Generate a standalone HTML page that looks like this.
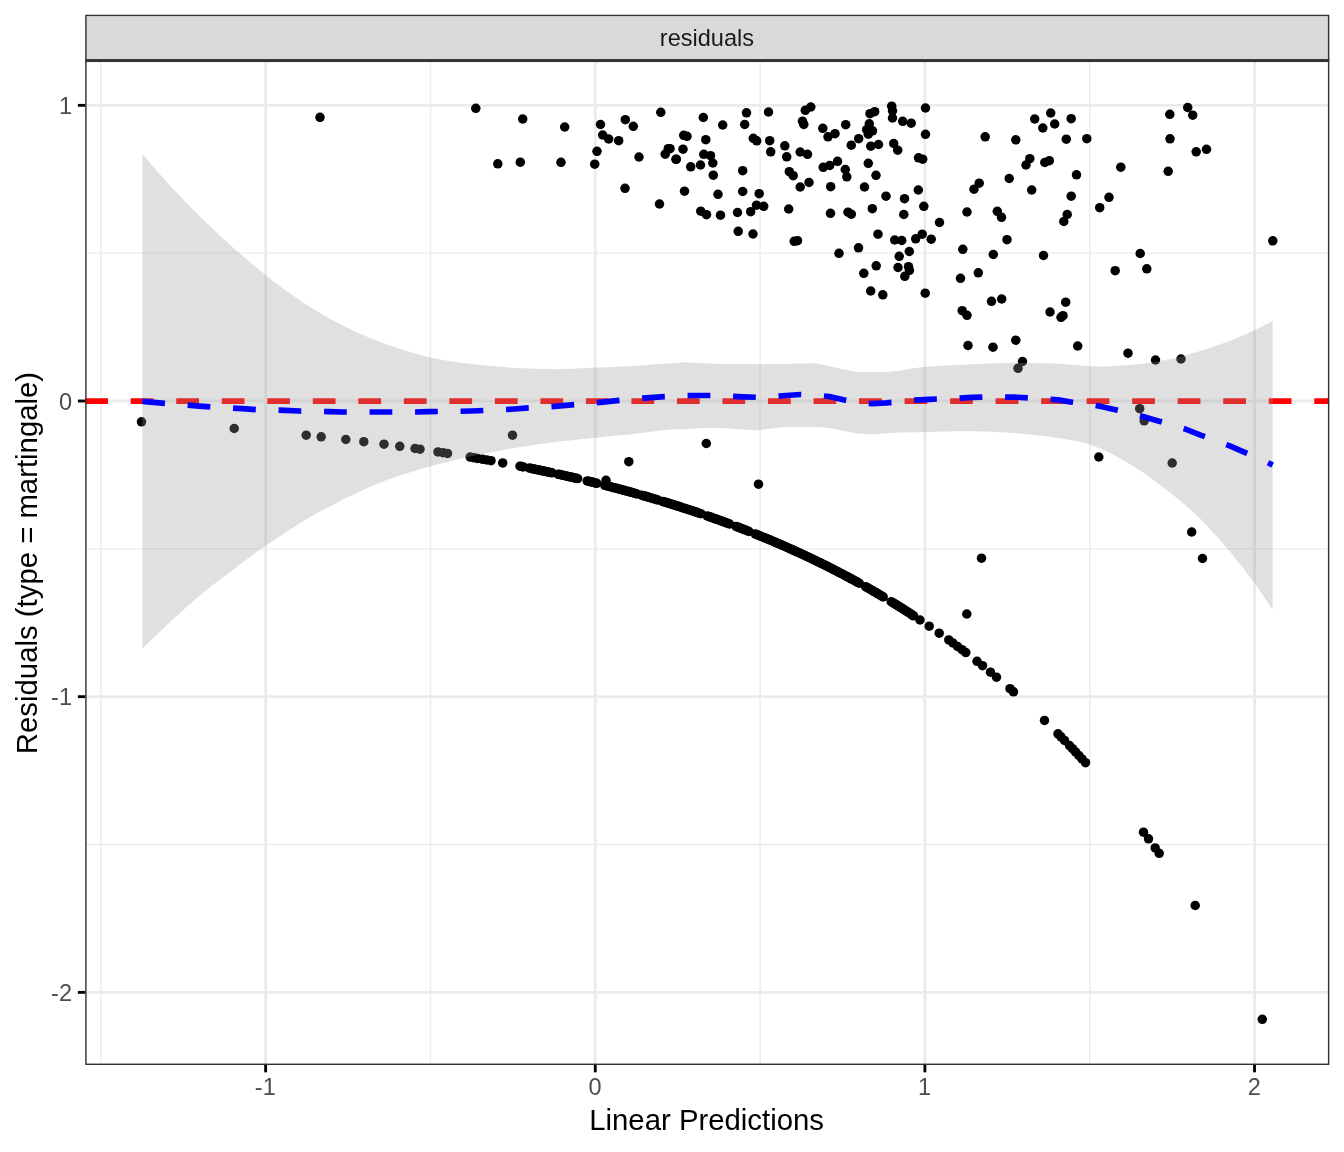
<!DOCTYPE html>
<html lang="en"><head><meta charset="utf-8"><title>Martingale residuals</title>
<style>html,body{margin:0;padding:0;background:#fff}svg{display:block}text{font-family:"Liberation Sans",sans-serif}</style></head><body>
<svg width="1344" height="1152" viewBox="0 0 1344 1152">
<rect width="1344" height="1152" fill="#fff"/>
<defs><clipPath id="pc"><rect x="85.2" y="60.6" width="1244.13" height="1004.4"/></clipPath><clipPath id="sc"><rect x="85.2" y="14.67" width="1244.13" height="45.93"/></clipPath></defs>
<g clip-path="url(#pc)">
<rect x="85.2" y="60.6" width="1244.13" height="1004.4" fill="#fff"/>
<g stroke="#EBEBEB" stroke-width="1.42" fill="none">
<line x1="100.82" x2="100.82" y1="60.6" y2="1065.0"/>
<line x1="430.45" x2="430.45" y1="60.6" y2="1065.0"/>
<line x1="760.09" x2="760.09" y1="60.6" y2="1065.0"/>
<line x1="1089.71" x2="1089.71" y1="60.6" y2="1065.0"/>
<line y1="253.16" y2="253.16" x1="85.2" x2="1329.33"/>
<line y1="548.84" y2="548.84" x1="85.2" x2="1329.33"/>
<line y1="844.50" y2="844.50" x1="85.2" x2="1329.33"/>
</g>
<g stroke="#EBEBEB" stroke-width="2.85" fill="none">
<line x1="265.64" x2="265.64" y1="60.6" y2="1065.0"/>
<line x1="595.27" x2="595.27" y1="60.6" y2="1065.0"/>
<line x1="924.90" x2="924.90" y1="60.6" y2="1065.0"/>
<line x1="1254.53" x2="1254.53" y1="60.6" y2="1065.0"/>
<line y1="105.33" y2="105.33" x1="85.2" x2="1329.33"/>
<line y1="401.00" y2="401.00" x1="85.2" x2="1329.33"/>
<line y1="696.67" y2="696.67" x1="85.2" x2="1329.33"/>
<line y1="992.34" y2="992.34" x1="85.2" x2="1329.33"/>
</g>
<g fill="#000">
<circle cx="475.8" cy="108.3" r="4.75"/>
<circle cx="522.7" cy="119.0" r="4.75"/>
<circle cx="564.7" cy="127.0" r="4.75"/>
<circle cx="600.5" cy="124.5" r="4.75"/>
<circle cx="625.3" cy="119.7" r="4.75"/>
<circle cx="633.3" cy="126.3" r="4.75"/>
<circle cx="660.8" cy="112.3" r="4.75"/>
<circle cx="602.7" cy="135.0" r="4.75"/>
<circle cx="608.7" cy="139.0" r="4.75"/>
<circle cx="618.7" cy="140.7" r="4.75"/>
<circle cx="597.0" cy="151.3" r="4.75"/>
<circle cx="639.0" cy="157.0" r="4.75"/>
<circle cx="668.2" cy="148.7" r="4.75"/>
<circle cx="665.2" cy="154.2" r="4.75"/>
<circle cx="676.0" cy="159.3" r="4.75"/>
<circle cx="497.8" cy="163.8" r="4.75"/>
<circle cx="520.3" cy="162.2" r="4.75"/>
<circle cx="561.0" cy="162.3" r="4.75"/>
<circle cx="594.7" cy="164.2" r="4.75"/>
<circle cx="625.0" cy="188.3" r="4.75"/>
<circle cx="659.5" cy="204.0" r="4.75"/>
<circle cx="703.3" cy="117.5" r="4.75"/>
<circle cx="722.7" cy="125.0" r="4.75"/>
<circle cx="746.5" cy="112.8" r="4.75"/>
<circle cx="744.7" cy="124.5" r="4.75"/>
<circle cx="768.5" cy="112.0" r="4.75"/>
<circle cx="810.8" cy="107.0" r="4.75"/>
<circle cx="805.3" cy="110.3" r="4.75"/>
<circle cx="802.5" cy="121.2" r="4.75"/>
<circle cx="803.8" cy="124.5" r="4.75"/>
<circle cx="822.8" cy="128.3" r="4.75"/>
<circle cx="835.0" cy="133.7" r="4.75"/>
<circle cx="828.0" cy="136.8" r="4.75"/>
<circle cx="845.7" cy="124.7" r="4.75"/>
<circle cx="874.7" cy="111.7" r="4.75"/>
<circle cx="870.0" cy="113.7" r="4.75"/>
<circle cx="869.3" cy="123.8" r="4.75"/>
<circle cx="866.7" cy="129.7" r="4.75"/>
<circle cx="872.5" cy="130.8" r="4.75"/>
<circle cx="868.3" cy="134.2" r="4.75"/>
<circle cx="858.7" cy="138.7" r="4.75"/>
<circle cx="851.3" cy="145.2" r="4.75"/>
<circle cx="870.8" cy="146.2" r="4.75"/>
<circle cx="878.5" cy="144.5" r="4.75"/>
<circle cx="683.7" cy="135.3" r="4.75"/>
<circle cx="687.0" cy="136.3" r="4.75"/>
<circle cx="705.8" cy="139.7" r="4.75"/>
<circle cx="683.0" cy="149.2" r="4.75"/>
<circle cx="670.0" cy="148.7" r="4.75"/>
<circle cx="676.3" cy="159.2" r="4.75"/>
<circle cx="703.8" cy="154.3" r="4.75"/>
<circle cx="710.5" cy="155.7" r="4.75"/>
<circle cx="712.8" cy="163.0" r="4.75"/>
<circle cx="700.5" cy="165.0" r="4.75"/>
<circle cx="690.7" cy="166.8" r="4.75"/>
<circle cx="713.3" cy="175.2" r="4.75"/>
<circle cx="684.5" cy="191.2" r="4.75"/>
<circle cx="718.0" cy="194.3" r="4.75"/>
<circle cx="742.7" cy="170.7" r="4.75"/>
<circle cx="742.7" cy="191.5" r="4.75"/>
<circle cx="759.2" cy="193.7" r="4.75"/>
<circle cx="753.3" cy="138.3" r="4.75"/>
<circle cx="756.7" cy="140.8" r="4.75"/>
<circle cx="769.7" cy="140.7" r="4.75"/>
<circle cx="770.7" cy="151.8" r="4.75"/>
<circle cx="784.8" cy="145.8" r="4.75"/>
<circle cx="786.7" cy="156.8" r="4.75"/>
<circle cx="800.2" cy="152.0" r="4.75"/>
<circle cx="807.5" cy="154.3" r="4.75"/>
<circle cx="789.3" cy="171.7" r="4.75"/>
<circle cx="793.2" cy="175.7" r="4.75"/>
<circle cx="809.0" cy="182.5" r="4.75"/>
<circle cx="800.2" cy="187.0" r="4.75"/>
<circle cx="823.2" cy="167.3" r="4.75"/>
<circle cx="829.7" cy="165.5" r="4.75"/>
<circle cx="837.5" cy="161.3" r="4.75"/>
<circle cx="845.3" cy="169.5" r="4.75"/>
<circle cx="846.8" cy="176.8" r="4.75"/>
<circle cx="868.3" cy="163.3" r="4.75"/>
<circle cx="876.0" cy="175.3" r="4.75"/>
<circle cx="864.5" cy="187.0" r="4.75"/>
<circle cx="830.7" cy="186.7" r="4.75"/>
<circle cx="872.3" cy="208.7" r="4.75"/>
<circle cx="830.5" cy="213.3" r="4.75"/>
<circle cx="848.0" cy="212.2" r="4.75"/>
<circle cx="851.3" cy="214.2" r="4.75"/>
<circle cx="788.7" cy="209.0" r="4.75"/>
<circle cx="756.5" cy="205.2" r="4.75"/>
<circle cx="763.7" cy="206.3" r="4.75"/>
<circle cx="750.7" cy="211.7" r="4.75"/>
<circle cx="737.5" cy="212.5" r="4.75"/>
<circle cx="720.5" cy="215.2" r="4.75"/>
<circle cx="700.8" cy="211.2" r="4.75"/>
<circle cx="706.5" cy="214.7" r="4.75"/>
<circle cx="738.2" cy="231.3" r="4.75"/>
<circle cx="753.0" cy="234.0" r="4.75"/>
<circle cx="794.2" cy="241.3" r="4.75"/>
<circle cx="797.5" cy="240.7" r="4.75"/>
<circle cx="878.0" cy="234.2" r="4.75"/>
<circle cx="858.5" cy="247.8" r="4.75"/>
<circle cx="839.0" cy="253.3" r="4.75"/>
<circle cx="876.2" cy="265.8" r="4.75"/>
<circle cx="863.8" cy="273.3" r="4.75"/>
<circle cx="891.7" cy="106.2" r="4.75"/>
<circle cx="892.5" cy="110.8" r="4.75"/>
<circle cx="892.5" cy="118.0" r="4.75"/>
<circle cx="925.5" cy="108.0" r="4.75"/>
<circle cx="902.7" cy="121.3" r="4.75"/>
<circle cx="911.2" cy="123.2" r="4.75"/>
<circle cx="925.5" cy="134.3" r="4.75"/>
<circle cx="893.7" cy="143.5" r="4.75"/>
<circle cx="897.7" cy="150.2" r="4.75"/>
<circle cx="918.5" cy="157.8" r="4.75"/>
<circle cx="922.7" cy="159.2" r="4.75"/>
<circle cx="985.2" cy="136.8" r="4.75"/>
<circle cx="1015.8" cy="139.8" r="4.75"/>
<circle cx="1034.7" cy="119.0" r="4.75"/>
<circle cx="1050.7" cy="113.0" r="4.75"/>
<circle cx="1054.7" cy="124.0" r="4.75"/>
<circle cx="1042.8" cy="128.0" r="4.75"/>
<circle cx="1071.2" cy="118.7" r="4.75"/>
<circle cx="1066.3" cy="139.2" r="4.75"/>
<circle cx="1086.8" cy="138.7" r="4.75"/>
<circle cx="1029.8" cy="158.7" r="4.75"/>
<circle cx="1026.0" cy="165.0" r="4.75"/>
<circle cx="1044.8" cy="162.5" r="4.75"/>
<circle cx="1049.3" cy="160.7" r="4.75"/>
<circle cx="1076.5" cy="174.8" r="4.75"/>
<circle cx="1009.2" cy="178.5" r="4.75"/>
<circle cx="979.2" cy="183.2" r="4.75"/>
<circle cx="974.0" cy="189.2" r="4.75"/>
<circle cx="1031.7" cy="190.0" r="4.75"/>
<circle cx="1071.2" cy="196.2" r="4.75"/>
<circle cx="1067.2" cy="214.5" r="4.75"/>
<circle cx="1063.8" cy="221.5" r="4.75"/>
<circle cx="886.0" cy="196.2" r="4.75"/>
<circle cx="904.5" cy="198.7" r="4.75"/>
<circle cx="918.3" cy="190.0" r="4.75"/>
<circle cx="923.8" cy="206.3" r="4.75"/>
<circle cx="903.8" cy="214.5" r="4.75"/>
<circle cx="939.5" cy="222.5" r="4.75"/>
<circle cx="967.0" cy="212.0" r="4.75"/>
<circle cx="997.3" cy="211.3" r="4.75"/>
<circle cx="1001.5" cy="217.3" r="4.75"/>
<circle cx="1007.0" cy="239.7" r="4.75"/>
<circle cx="894.7" cy="240.0" r="4.75"/>
<circle cx="901.7" cy="240.5" r="4.75"/>
<circle cx="915.7" cy="238.8" r="4.75"/>
<circle cx="922.2" cy="234.2" r="4.75"/>
<circle cx="931.2" cy="239.2" r="4.75"/>
<circle cx="909.3" cy="251.5" r="4.75"/>
<circle cx="899.2" cy="256.3" r="4.75"/>
<circle cx="962.8" cy="249.3" r="4.75"/>
<circle cx="993.3" cy="254.5" r="4.75"/>
<circle cx="1043.5" cy="255.5" r="4.75"/>
<circle cx="898.0" cy="267.5" r="4.75"/>
<circle cx="908.5" cy="266.7" r="4.75"/>
<circle cx="909.5" cy="270.5" r="4.75"/>
<circle cx="904.8" cy="276.3" r="4.75"/>
<circle cx="978.3" cy="272.8" r="4.75"/>
<circle cx="960.5" cy="278.3" r="4.75"/>
<circle cx="1187.7" cy="107.5" r="4.75"/>
<circle cx="1169.8" cy="114.3" r="4.75"/>
<circle cx="1192.7" cy="115.2" r="4.75"/>
<circle cx="1170.0" cy="138.8" r="4.75"/>
<circle cx="1196.2" cy="151.8" r="4.75"/>
<circle cx="1206.5" cy="149.3" r="4.75"/>
<circle cx="1120.8" cy="167.2" r="4.75"/>
<circle cx="1168.2" cy="171.3" r="4.75"/>
<circle cx="1109.0" cy="197.3" r="4.75"/>
<circle cx="1099.7" cy="207.7" r="4.75"/>
<circle cx="1272.8" cy="240.8" r="4.75"/>
<circle cx="1140.2" cy="253.5" r="4.75"/>
<circle cx="1146.8" cy="268.8" r="4.75"/>
<circle cx="1115.2" cy="270.7" r="4.75"/>
<circle cx="870.7" cy="291.0" r="4.75"/>
<circle cx="882.8" cy="294.8" r="4.75"/>
<circle cx="925.2" cy="293.2" r="4.75"/>
<circle cx="991.5" cy="301.3" r="4.75"/>
<circle cx="1001.7" cy="299.0" r="4.75"/>
<circle cx="962.2" cy="310.7" r="4.75"/>
<circle cx="967.0" cy="315.3" r="4.75"/>
<circle cx="1050.0" cy="312.0" r="4.75"/>
<circle cx="1065.7" cy="302.2" r="4.75"/>
<circle cx="1063.0" cy="315.7" r="4.75"/>
<circle cx="1061.0" cy="317.3" r="4.75"/>
<circle cx="968.0" cy="345.5" r="4.75"/>
<circle cx="993.0" cy="347.2" r="4.75"/>
<circle cx="1015.8" cy="340.2" r="4.75"/>
<circle cx="1077.7" cy="346.0" r="4.75"/>
<circle cx="1022.5" cy="361.5" r="4.75"/>
<circle cx="1018.0" cy="368.3" r="4.75"/>
<circle cx="1098.8" cy="457.0" r="4.75"/>
<circle cx="1128.0" cy="353.2" r="4.75"/>
<circle cx="1155.5" cy="360.0" r="4.75"/>
<circle cx="1181.0" cy="359.0" r="4.75"/>
<circle cx="1139.7" cy="408.7" r="4.75"/>
<circle cx="1144.2" cy="420.8" r="4.75"/>
<circle cx="1172.2" cy="463.0" r="4.75"/>
<circle cx="1191.7" cy="532.0" r="4.75"/>
<circle cx="1202.5" cy="558.5" r="4.75"/>
<circle cx="320.0" cy="117.3" r="4.75"/>
<circle cx="512.5" cy="435.2" r="4.75"/>
<circle cx="628.8" cy="461.7" r="4.75"/>
<circle cx="706.3" cy="443.5" r="4.75"/>
<circle cx="758.5" cy="484.2" r="4.75"/>
<circle cx="981.5" cy="558.2" r="4.75"/>
<circle cx="966.8" cy="614.0" r="4.75"/>
<circle cx="606.0" cy="480.3" r="4.75"/>
<circle cx="141.5" cy="421.8" r="4.75"/>
<circle cx="234.2" cy="428.5" r="4.75"/>
<circle cx="306.2" cy="435.2" r="4.75"/>
<circle cx="321.2" cy="436.8" r="4.75"/>
<circle cx="345.8" cy="439.5" r="4.75"/>
<circle cx="363.8" cy="441.7" r="4.75"/>
<circle cx="384.0" cy="444.2" r="4.75"/>
<circle cx="399.8" cy="446.3" r="4.75"/>
<circle cx="415.0" cy="448.5" r="4.75"/>
<circle cx="420.0" cy="449.2" r="4.75"/>
<circle cx="438.0" cy="451.9" r="4.75"/>
<circle cx="443.0" cy="452.7" r="4.75"/>
<circle cx="447.5" cy="453.4" r="4.75"/>
<circle cx="470.2" cy="457.1" r="4.75"/>
<circle cx="474.3" cy="457.8" r="4.75"/>
<circle cx="477.7" cy="458.4" r="4.75"/>
<circle cx="482.7" cy="459.3" r="4.75"/>
<circle cx="486.8" cy="460.0" r="4.75"/>
<circle cx="491.0" cy="460.7" r="4.75"/>
<circle cx="502.7" cy="462.9" r="4.75"/>
<circle cx="520.0" cy="466.2" r="4.75"/>
<circle cx="521.6" cy="466.5" r="4.75"/>
<circle cx="523.2" cy="466.9" r="4.75"/>
<circle cx="529.6" cy="468.1" r="4.75"/>
<circle cx="531.2" cy="468.5" r="4.75"/>
<circle cx="532.8" cy="468.8" r="4.75"/>
<circle cx="534.4" cy="469.1" r="4.75"/>
<circle cx="536.0" cy="469.5" r="4.75"/>
<circle cx="537.6" cy="469.8" r="4.75"/>
<circle cx="539.2" cy="470.1" r="4.75"/>
<circle cx="540.8" cy="470.5" r="4.75"/>
<circle cx="542.4" cy="470.8" r="4.75"/>
<circle cx="544.0" cy="471.1" r="4.75"/>
<circle cx="545.6" cy="471.5" r="4.75"/>
<circle cx="547.2" cy="471.8" r="4.75"/>
<circle cx="548.8" cy="472.2" r="4.75"/>
<circle cx="550.4" cy="472.5" r="4.75"/>
<circle cx="552.0" cy="472.8" r="4.75"/>
<circle cx="558.4" cy="474.3" r="4.75"/>
<circle cx="560.0" cy="474.6" r="4.75"/>
<circle cx="561.6" cy="475.0" r="4.75"/>
<circle cx="563.2" cy="475.3" r="4.75"/>
<circle cx="564.8" cy="475.7" r="4.75"/>
<circle cx="566.4" cy="476.0" r="4.75"/>
<circle cx="568.0" cy="476.4" r="4.75"/>
<circle cx="569.6" cy="476.8" r="4.75"/>
<circle cx="571.2" cy="477.1" r="4.75"/>
<circle cx="572.8" cy="477.5" r="4.75"/>
<circle cx="574.4" cy="477.9" r="4.75"/>
<circle cx="576.0" cy="478.3" r="4.75"/>
<circle cx="577.6" cy="478.6" r="4.75"/>
<circle cx="587.2" cy="480.9" r="4.75"/>
<circle cx="588.8" cy="481.3" r="4.75"/>
<circle cx="590.4" cy="481.7" r="4.75"/>
<circle cx="592.0" cy="482.1" r="4.75"/>
<circle cx="593.6" cy="482.5" r="4.75"/>
<circle cx="595.2" cy="482.9" r="4.75"/>
<circle cx="596.8" cy="483.3" r="4.75"/>
<circle cx="604.8" cy="485.3" r="4.75"/>
<circle cx="606.4" cy="485.7" r="4.75"/>
<circle cx="608.0" cy="486.1" r="4.75"/>
<circle cx="609.6" cy="486.5" r="4.75"/>
<circle cx="611.2" cy="486.9" r="4.75"/>
<circle cx="612.8" cy="487.4" r="4.75"/>
<circle cx="614.4" cy="487.8" r="4.75"/>
<circle cx="616.0" cy="488.2" r="4.75"/>
<circle cx="617.6" cy="488.6" r="4.75"/>
<circle cx="619.2" cy="489.1" r="4.75"/>
<circle cx="620.8" cy="489.5" r="4.75"/>
<circle cx="622.4" cy="489.9" r="4.75"/>
<circle cx="624.0" cy="490.3" r="4.75"/>
<circle cx="625.6" cy="490.8" r="4.75"/>
<circle cx="627.2" cy="491.2" r="4.75"/>
<circle cx="628.8" cy="491.6" r="4.75"/>
<circle cx="630.4" cy="492.1" r="4.75"/>
<circle cx="632.0" cy="492.5" r="4.75"/>
<circle cx="633.6" cy="493.0" r="4.75"/>
<circle cx="635.2" cy="493.4" r="4.75"/>
<circle cx="636.8" cy="493.9" r="4.75"/>
<circle cx="641.6" cy="495.2" r="4.75"/>
<circle cx="643.2" cy="495.7" r="4.75"/>
<circle cx="644.8" cy="496.1" r="4.75"/>
<circle cx="646.4" cy="496.6" r="4.75"/>
<circle cx="648.0" cy="497.1" r="4.75"/>
<circle cx="649.6" cy="497.5" r="4.75"/>
<circle cx="651.2" cy="498.0" r="4.75"/>
<circle cx="652.8" cy="498.5" r="4.75"/>
<circle cx="654.4" cy="499.0" r="4.75"/>
<circle cx="656.0" cy="499.4" r="4.75"/>
<circle cx="657.6" cy="499.9" r="4.75"/>
<circle cx="662.4" cy="501.4" r="4.75"/>
<circle cx="664.0" cy="501.8" r="4.75"/>
<circle cx="665.6" cy="502.3" r="4.75"/>
<circle cx="667.2" cy="502.8" r="4.75"/>
<circle cx="668.8" cy="503.3" r="4.75"/>
<circle cx="670.4" cy="503.8" r="4.75"/>
<circle cx="672.0" cy="504.3" r="4.75"/>
<circle cx="673.6" cy="504.8" r="4.75"/>
<circle cx="675.2" cy="505.3" r="4.75"/>
<circle cx="676.8" cy="505.8" r="4.75"/>
<circle cx="678.4" cy="506.3" r="4.75"/>
<circle cx="680.0" cy="506.8" r="4.75"/>
<circle cx="681.6" cy="507.4" r="4.75"/>
<circle cx="683.2" cy="507.9" r="4.75"/>
<circle cx="684.8" cy="508.4" r="4.75"/>
<circle cx="686.4" cy="508.9" r="4.75"/>
<circle cx="688.0" cy="509.4" r="4.75"/>
<circle cx="689.6" cy="510.0" r="4.75"/>
<circle cx="691.2" cy="510.5" r="4.75"/>
<circle cx="692.8" cy="511.0" r="4.75"/>
<circle cx="694.4" cy="511.6" r="4.75"/>
<circle cx="696.0" cy="512.1" r="4.75"/>
<circle cx="697.6" cy="512.6" r="4.75"/>
<circle cx="699.2" cy="513.2" r="4.75"/>
<circle cx="700.8" cy="513.7" r="4.75"/>
<circle cx="707.2" cy="515.9" r="4.75"/>
<circle cx="708.8" cy="516.5" r="4.75"/>
<circle cx="710.4" cy="517.1" r="4.75"/>
<circle cx="712.0" cy="517.6" r="4.75"/>
<circle cx="713.6" cy="518.2" r="4.75"/>
<circle cx="715.2" cy="518.8" r="4.75"/>
<circle cx="716.8" cy="519.3" r="4.75"/>
<circle cx="718.4" cy="519.9" r="4.75"/>
<circle cx="720.0" cy="520.5" r="4.75"/>
<circle cx="721.6" cy="521.1" r="4.75"/>
<circle cx="723.2" cy="521.6" r="4.75"/>
<circle cx="724.8" cy="522.2" r="4.75"/>
<circle cx="726.4" cy="522.8" r="4.75"/>
<circle cx="728.0" cy="523.4" r="4.75"/>
<circle cx="729.6" cy="524.0" r="4.75"/>
<circle cx="736.0" cy="526.4" r="4.75"/>
<circle cx="737.6" cy="527.0" r="4.75"/>
<circle cx="739.2" cy="527.6" r="4.75"/>
<circle cx="740.8" cy="528.2" r="4.75"/>
<circle cx="742.4" cy="528.9" r="4.75"/>
<circle cx="744.0" cy="529.5" r="4.75"/>
<circle cx="745.6" cy="530.1" r="4.75"/>
<circle cx="747.2" cy="530.7" r="4.75"/>
<circle cx="748.8" cy="531.4" r="4.75"/>
<circle cx="755.2" cy="533.9" r="4.75"/>
<circle cx="756.8" cy="534.6" r="4.75"/>
<circle cx="758.4" cy="535.2" r="4.75"/>
<circle cx="760.0" cy="535.9" r="4.75"/>
<circle cx="761.6" cy="536.5" r="4.75"/>
<circle cx="763.2" cy="537.2" r="4.75"/>
<circle cx="764.8" cy="537.8" r="4.75"/>
<circle cx="766.4" cy="538.5" r="4.75"/>
<circle cx="768.0" cy="539.2" r="4.75"/>
<circle cx="769.6" cy="539.8" r="4.75"/>
<circle cx="771.2" cy="540.5" r="4.75"/>
<circle cx="772.8" cy="541.2" r="4.75"/>
<circle cx="774.4" cy="541.9" r="4.75"/>
<circle cx="776.0" cy="542.6" r="4.75"/>
<circle cx="777.6" cy="543.3" r="4.75"/>
<circle cx="779.2" cy="543.9" r="4.75"/>
<circle cx="780.8" cy="544.6" r="4.75"/>
<circle cx="782.4" cy="545.3" r="4.75"/>
<circle cx="784.0" cy="546.0" r="4.75"/>
<circle cx="785.6" cy="546.7" r="4.75"/>
<circle cx="787.2" cy="547.4" r="4.75"/>
<circle cx="788.8" cy="548.2" r="4.75"/>
<circle cx="790.4" cy="548.9" r="4.75"/>
<circle cx="792.0" cy="549.6" r="4.75"/>
<circle cx="793.6" cy="550.3" r="4.75"/>
<circle cx="795.2" cy="551.0" r="4.75"/>
<circle cx="796.8" cy="551.8" r="4.75"/>
<circle cx="798.4" cy="552.5" r="4.75"/>
<circle cx="800.0" cy="553.2" r="4.75"/>
<circle cx="801.6" cy="554.0" r="4.75"/>
<circle cx="803.2" cy="554.7" r="4.75"/>
<circle cx="804.8" cy="555.5" r="4.75"/>
<circle cx="806.4" cy="556.2" r="4.75"/>
<circle cx="808.0" cy="557.0" r="4.75"/>
<circle cx="809.6" cy="557.7" r="4.75"/>
<circle cx="811.2" cy="558.5" r="4.75"/>
<circle cx="812.8" cy="559.3" r="4.75"/>
<circle cx="814.4" cy="560.0" r="4.75"/>
<circle cx="816.0" cy="560.8" r="4.75"/>
<circle cx="817.6" cy="561.6" r="4.75"/>
<circle cx="819.2" cy="562.4" r="4.75"/>
<circle cx="820.8" cy="563.1" r="4.75"/>
<circle cx="822.4" cy="563.9" r="4.75"/>
<circle cx="824.0" cy="564.7" r="4.75"/>
<circle cx="825.6" cy="565.5" r="4.75"/>
<circle cx="827.2" cy="566.3" r="4.75"/>
<circle cx="828.8" cy="567.1" r="4.75"/>
<circle cx="830.4" cy="567.9" r="4.75"/>
<circle cx="832.0" cy="568.7" r="4.75"/>
<circle cx="833.6" cy="569.6" r="4.75"/>
<circle cx="835.2" cy="570.4" r="4.75"/>
<circle cx="836.8" cy="571.2" r="4.75"/>
<circle cx="838.4" cy="572.0" r="4.75"/>
<circle cx="840.0" cy="572.9" r="4.75"/>
<circle cx="841.6" cy="573.7" r="4.75"/>
<circle cx="843.2" cy="574.5" r="4.75"/>
<circle cx="844.8" cy="575.4" r="4.75"/>
<circle cx="846.4" cy="576.2" r="4.75"/>
<circle cx="848.0" cy="577.1" r="4.75"/>
<circle cx="849.6" cy="577.9" r="4.75"/>
<circle cx="851.2" cy="578.8" r="4.75"/>
<circle cx="852.8" cy="579.7" r="4.75"/>
<circle cx="854.4" cy="580.5" r="4.75"/>
<circle cx="856.0" cy="581.4" r="4.75"/>
<circle cx="857.6" cy="582.3" r="4.75"/>
<circle cx="859.2" cy="583.2" r="4.75"/>
<circle cx="865.6" cy="586.7" r="4.75"/>
<circle cx="867.2" cy="587.6" r="4.75"/>
<circle cx="868.8" cy="588.5" r="4.75"/>
<circle cx="870.4" cy="589.4" r="4.75"/>
<circle cx="872.0" cy="590.4" r="4.75"/>
<circle cx="873.6" cy="591.3" r="4.75"/>
<circle cx="875.2" cy="592.2" r="4.75"/>
<circle cx="876.8" cy="593.1" r="4.75"/>
<circle cx="878.4" cy="594.1" r="4.75"/>
<circle cx="880.0" cy="595.0" r="4.75"/>
<circle cx="881.6" cy="595.9" r="4.75"/>
<circle cx="883.2" cy="596.9" r="4.75"/>
<circle cx="891.2" cy="601.7" r="4.75"/>
<circle cx="892.8" cy="602.7" r="4.75"/>
<circle cx="894.4" cy="603.7" r="4.75"/>
<circle cx="896.0" cy="604.6" r="4.75"/>
<circle cx="897.6" cy="605.6" r="4.75"/>
<circle cx="899.2" cy="606.6" r="4.75"/>
<circle cx="900.8" cy="607.6" r="4.75"/>
<circle cx="902.4" cy="608.6" r="4.75"/>
<circle cx="904.0" cy="609.6" r="4.75"/>
<circle cx="905.6" cy="610.7" r="4.75"/>
<circle cx="907.2" cy="611.7" r="4.75"/>
<circle cx="908.8" cy="612.7" r="4.75"/>
<circle cx="910.4" cy="613.7" r="4.75"/>
<circle cx="912.0" cy="614.8" r="4.75"/>
<circle cx="913.6" cy="615.8" r="4.75"/>
<circle cx="920.0" cy="620.0" r="4.75"/>
<circle cx="929.2" cy="626.2" r="4.75"/>
<circle cx="939.2" cy="633.2" r="4.75"/>
<circle cx="948.8" cy="639.9" r="4.75"/>
<circle cx="953.0" cy="643.0" r="4.75"/>
<circle cx="957.5" cy="646.4" r="4.75"/>
<circle cx="962.0" cy="649.7" r="4.75"/>
<circle cx="965.8" cy="652.6" r="4.75"/>
<circle cx="977.0" cy="661.3" r="4.75"/>
<circle cx="982.5" cy="665.7" r="4.75"/>
<circle cx="990.5" cy="672.2" r="4.75"/>
<circle cx="996.5" cy="677.2" r="4.75"/>
<circle cx="1010.0" cy="688.7" r="4.75"/>
<circle cx="1013.5" cy="691.8" r="4.75"/>
<circle cx="1044.5" cy="720.4" r="4.75"/>
<circle cx="1058.0" cy="733.8" r="4.75"/>
<circle cx="1061.0" cy="736.8" r="4.75"/>
<circle cx="1064.5" cy="740.4" r="4.75"/>
<circle cx="1069.5" cy="745.6" r="4.75"/>
<circle cx="1072.5" cy="748.7" r="4.75"/>
<circle cx="1075.5" cy="751.9" r="4.75"/>
<circle cx="1078.8" cy="755.4" r="4.75"/>
<circle cx="1082.0" cy="758.9" r="4.75"/>
<circle cx="1085.5" cy="762.7" r="4.75"/>
<circle cx="1143.5" cy="832.2" r="4.75"/>
<circle cx="1148.5" cy="838.8" r="4.75"/>
<circle cx="1155.2" cy="847.9" r="4.75"/>
<circle cx="1159.2" cy="853.3" r="4.75"/>
<circle cx="1195.2" cy="905.5" r="4.75"/>
<circle cx="1262.3" cy="1019.3" r="4.75"/>
</g>
<line x1="85.2" x2="1329.33" y1="401.1" y2="401.1" stroke="#FF0000" stroke-width="5.69" stroke-dasharray="22.76 22.76"/>
<path d="M142.3 154.0 L156.6 170.6 L170.9 186.6 L185.2 201.7 L199.5 216.0 L213.8 229.9 L228.2 243.3 L242.5 255.8 L256.8 267.8 L271.1 279.4 L285.4 290.3 L299.7 300.3 L314.0 309.5 L328.3 317.9 L342.6 325.4 L356.9 332.2 L371.2 338.5 L385.6 344.0 L399.9 348.9 L414.2 353.3 L428.5 357.2 L442.8 360.1 L457.1 362.3 L471.4 363.9 L485.7 365.5 L500.0 366.8 L514.3 367.9 L528.6 368.5 L542.9 369.0 L557.3 369.2 L571.6 368.8 L585.9 368.1 L600.2 367.6 L614.5 367.1 L628.8 366.3 L643.1 365.2 L657.4 364.1 L671.7 363.2 L686.0 362.3 L700.3 363.1 L714.7 363.8 L729.0 364.0 L743.3 364.1 L757.6 364.2 L771.9 364.1 L786.2 363.9 L800.5 363.6 L814.8 363.3 L829.1 366.0 L843.4 369.4 L857.7 372.0 L872.1 372.0 L886.4 372.0 L900.7 370.4 L915.0 368.1 L929.3 366.6 L943.6 365.7 L957.9 365.0 L972.2 364.3 L986.5 363.5 L1000.8 362.9 L1015.1 362.8 L1029.4 362.9 L1043.8 363.2 L1058.1 363.6 L1072.4 364.8 L1086.7 366.0 L1101.0 366.7 L1115.3 366.1 L1129.6 365.1 L1143.9 363.7 L1158.2 361.5 L1172.5 358.7 L1186.8 354.9 L1201.2 350.8 L1215.5 346.1 L1229.8 340.9 L1244.1 334.9 L1258.4 328.3 L1272.7 321.2 L1272.7 609.7 L1258.4 588.4 L1244.1 569.2 L1229.8 551.5 L1215.5 535.0 L1201.2 519.8 L1186.8 506.4 L1172.5 494.4 L1158.2 483.4 L1143.9 473.1 L1129.6 464.0 L1115.3 455.8 L1101.0 448.7 L1086.7 443.5 L1072.4 440.3 L1058.1 438.0 L1043.8 436.1 L1029.4 434.5 L1015.1 433.2 L1000.8 432.3 L986.5 431.6 L972.2 431.2 L957.9 431.3 L943.6 431.5 L929.3 431.9 L915.0 432.3 L900.7 432.6 L886.4 433.2 L872.1 434.4 L857.7 433.4 L843.4 430.9 L829.1 428.0 L814.8 427.0 L800.5 427.0 L786.2 427.0 L771.9 428.6 L757.6 430.3 L743.3 429.8 L729.0 428.6 L714.7 427.8 L700.3 428.3 L686.0 429.2 L671.7 429.5 L657.4 431.1 L643.1 432.8 L628.8 434.4 L614.5 435.8 L600.2 437.2 L585.9 438.7 L571.6 440.2 L557.3 441.8 L542.9 443.7 L528.6 445.8 L514.3 448.0 L500.0 450.5 L485.7 453.2 L471.4 456.2 L457.1 459.5 L442.8 463.0 L428.5 466.7 L414.2 470.9 L399.9 475.5 L385.6 480.4 L371.2 486.2 L356.9 492.9 L342.6 499.8 L328.3 507.2 L314.0 514.8 L299.7 523.3 L285.4 532.7 L271.1 542.1 L256.8 551.8 L242.5 562.4 L228.2 573.4 L213.8 584.3 L199.5 595.8 L185.2 608.3 L170.9 621.3 L156.6 634.8 L142.3 648.8 Z" fill="#999999" fill-opacity="0.3"/>
<path d="M142.3 401.3 L156.6 402.6 L170.9 403.8 L185.2 404.9 L199.5 406.2 L213.8 407.2 L228.2 407.8 L242.5 408.7 L256.8 409.6 L271.1 409.8 L285.4 410.3 L299.7 411.0 L314.0 411.3 L328.3 411.6 L342.6 412.0 L356.9 412.0 L371.2 412.0 L385.6 412.0 L399.9 412.0 L414.2 412.0 L428.5 411.7 L442.8 411.4 L457.1 411.3 L471.4 411.0 L485.7 410.4 L500.0 409.9 L514.3 409.0 L528.6 407.8 L542.9 407.1 L557.3 406.2 L571.6 404.9 L585.9 403.7 L600.2 402.4 L614.5 400.8 L628.8 399.4 L643.1 398.2 L657.4 397.1 L671.7 396.3 L686.0 395.7 L700.3 395.5 L714.7 395.5 L729.0 396.1 L743.3 396.8 L757.6 397.3 L771.9 396.6 L786.2 395.5 L800.5 394.5 L814.8 395.0 L829.1 396.5 L843.4 399.8 L857.7 402.6 L872.1 403.6 L886.4 402.8 L900.7 401.6 L915.0 400.2 L929.3 399.3 L943.6 398.7 L957.9 398.3 L972.2 397.4 L986.5 397.0 L1000.8 397.0 L1015.1 397.2 L1029.4 397.9 L1043.8 398.6 L1058.1 399.9 L1072.4 402.2 L1086.7 404.1 L1101.0 406.4 L1115.3 409.7 L1129.6 413.1 L1143.9 416.8 L1158.2 421.0 L1172.5 425.0 L1186.8 429.6 L1201.2 435.3 L1215.5 440.5 L1229.8 445.9 L1244.1 452.1 L1258.4 458.2 L1272.7 465.0" fill="none" stroke="#0000FF" stroke-width="5.69" stroke-dasharray="22.76 22.76" stroke-linejoin="round"/>
<rect x="85.2" y="60.6" width="1244.13" height="1004.4" fill="none" stroke="#333333" stroke-width="2.85"/>
</g>
<g clip-path="url(#sc)">
<rect x="85.2" y="14.67" width="1244.13" height="45.93" fill="#D9D9D9" stroke="#333333" stroke-width="2.85"/>
</g>
<rect x="85.2" y="59.18" width="1244.13" height="2.84" fill="#333333"/>
<text transform="translate(706.9 45.8) scale(1.004 1)" font-size="23.47" fill="#1A1A1A" text-anchor="middle">residuals</text>
<g stroke="#000000" stroke-width="2.85">
<line x1="265.64" x2="265.64" y1="1065.0" y2="1072.33"/>
<line x1="595.27" x2="595.27" y1="1065.0" y2="1072.33"/>
<line x1="924.90" x2="924.90" y1="1065.0" y2="1072.33"/>
<line x1="1254.53" x2="1254.53" y1="1065.0" y2="1072.33"/>
<line y1="105.33" y2="105.33" x1="77.87" x2="85.2"/>
<line y1="401.00" y2="401.00" x1="77.87" x2="85.2"/>
<line y1="696.67" y2="696.67" x1="77.87" x2="85.2"/>
<line y1="992.34" y2="992.34" x1="77.87" x2="85.2"/>
</g>
<g font-size="23.47" fill="#4D4D4D">
<text transform="translate(265.3 1094.9) scale(1.004 1)" text-anchor="middle">-1</text>
<text transform="translate(595.0 1094.9) scale(1.004 1)" text-anchor="middle">0</text>
<text transform="translate(924.6 1094.9) scale(1.004 1)" text-anchor="middle">1</text>
<text transform="translate(1254.2 1094.9) scale(1.004 1)" text-anchor="middle">2</text>
<text transform="translate(72.0 113.9) scale(1.004 1)" text-anchor="end">1</text>
<text transform="translate(72.0 409.6) scale(1.004 1)" text-anchor="end">0</text>
<text transform="translate(72.0 705.3) scale(1.004 1)" text-anchor="end">-1</text>
<text transform="translate(72.0 1000.9) scale(1.004 1)" text-anchor="end">-2</text>
</g>
<text x="706.6" y="1130" font-size="29.33" fill="#000" text-anchor="middle">Linear Predictions</text>
<text transform="translate(37.2 563) rotate(-90)" font-size="29.33" fill="#000" text-anchor="middle">Residuals (type = martingale)</text>
</svg></body></html>
